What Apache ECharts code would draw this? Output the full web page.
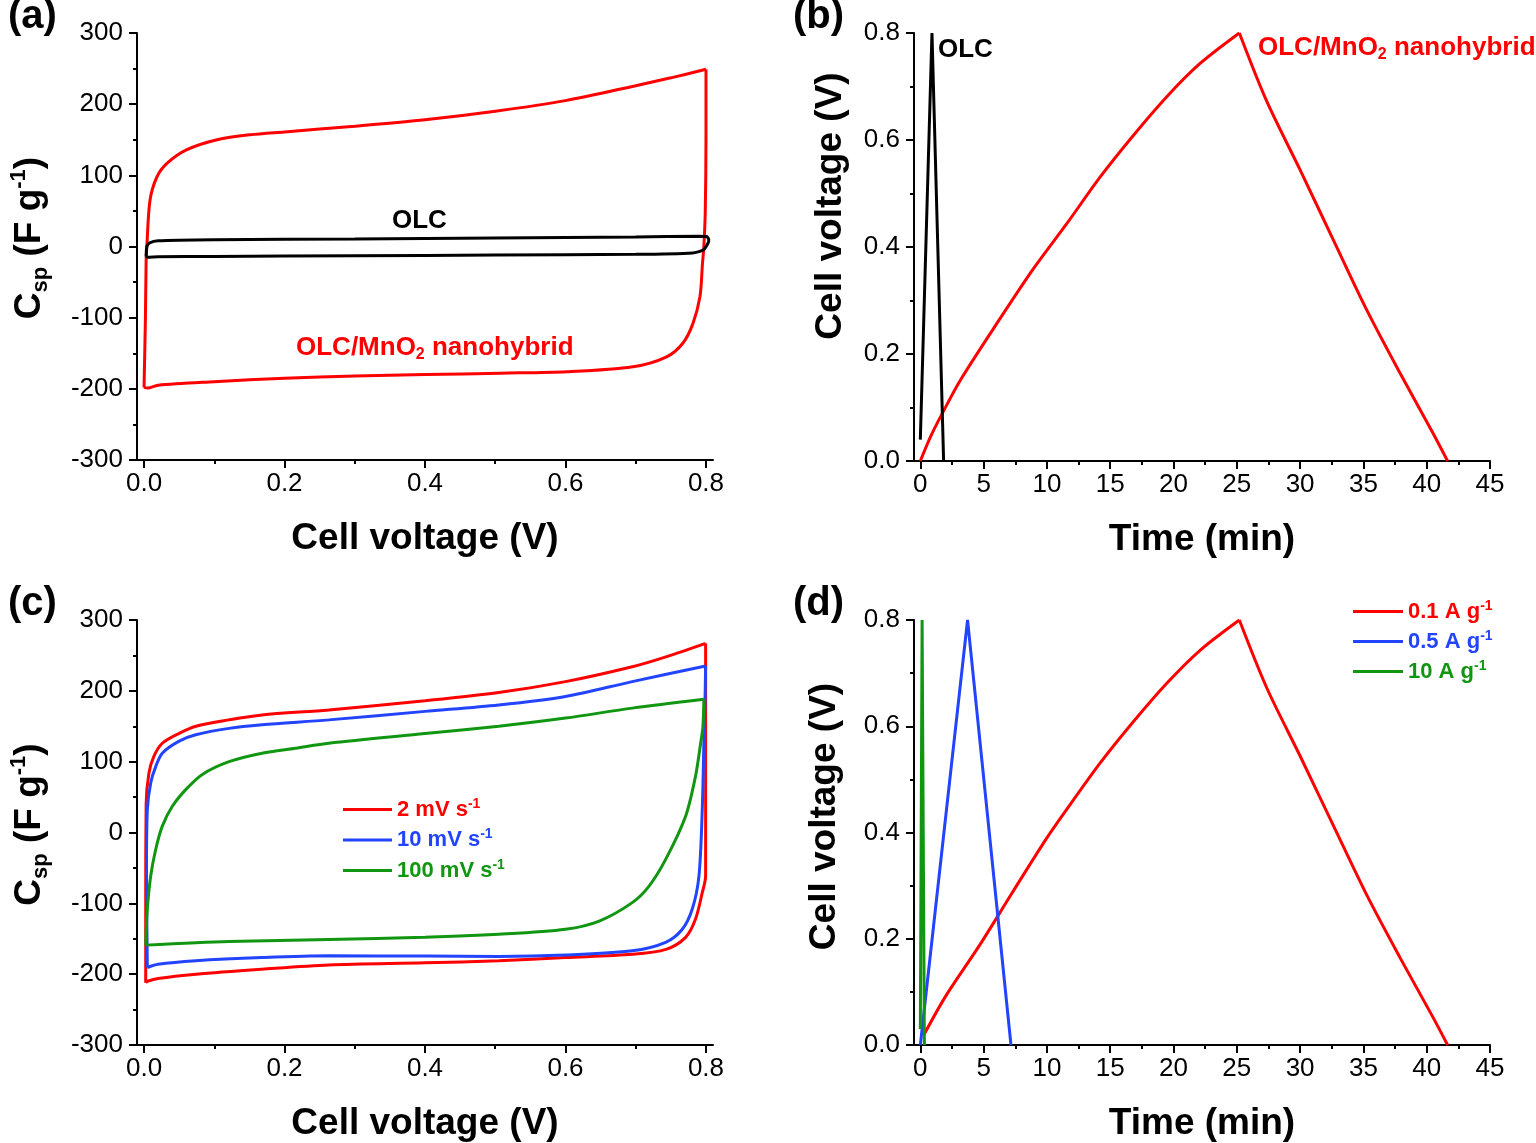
<!DOCTYPE html>
<html><head><meta charset="utf-8">
<script src="https://cdn.jsdelivr.net/npm/echarts@6/dist/echarts.min.js"></script>
<style>html,body{margin:0;padding:0;background:#fff}#c{width:1536px;height:1143px}</style>
</head><body><div id="c"></div>
<script>
// ---------- Panel (a): CV, OLC vs OLC/MnO2 (anodic "up" and cathodic "down" branches) ----------
const aHybUpV = [0.0, 0.002, 0.003, 0.004, 0.0085, 0.0185, 0.033, 0.061, 0.104, 0.151, 0.2, 0.3, 0.4, 0.5, 0.6, 0.7, 0.75, 0.8];
const aHybUpC = [-198, -100, -20, 0, 65, 98, 117, 136, 150, 157, 161, 169, 178, 190, 205, 226, 237, 249];
const aHybDnV = [0.8, 0.8, 0.799, 0.797, 0.795, 0.7915, 0.7815, 0.767, 0.744, 0.696, 0.602, 0.507, 0.4, 0.3, 0.2, 0.1, 0.02, 0.005, 0.0];
const aHybDnC = [249, 150, 50, 0, -24, -70, -108, -136, -155, -169, -176, -178, -180, -182, -185, -190, -195, -199, -198];
const aOlcV = [0.003, 0.004, 0.008, 0.02, 0.1, 0.3, 0.5, 0.7, 0.79, 0.801, 0.804, 0.803, 0.796, 0.781, 0.7, 0.5, 0.3, 0.1, 0.02, 0.005, 0.003];
const aOlcC = [-14, 0, 5, 8, 9.5, 10.5, 12, 13.5, 14.5, 14, 10, 5, -5, -9, -11, -12, -13, -14, -14.5, -15, -14];

// ---------- Panel (b): galvanostatic charge / discharge ----------
const bHybChT = [0, 0.8, 1.58, 3.16, 6.32, 8.95, 11.58, 14.21, 16.84, 19.47, 22.1, 25.2];
const bHybChU = [0, 0.045, 0.082, 0.151, 0.267, 0.36, 0.444, 0.531, 0.609, 0.681, 0.743, 0.8];
const bHybDisT = [25.2, 27.37, 30.0, 32.63, 35.27, 37.9, 40.5, 41.65];
const bHybDisU = [0.8, 0.672, 0.544, 0.413, 0.282, 0.164, 0.052, 0];
const bOlcT = [0, 0.92, 1.84];
const bOlcU = [0.04, 0.8, 0];

// ---------- Panel (c): CV at different scan rates ----------
const c2UpV = [0.0024, 0.0024, 0.003, 0.007, 0.014, 0.026, 0.05, 0.074, 0.121, 0.168, 0.263, 0.4, 0.505, 0.6, 0.695, 0.743, 0.7995];
const c2UpC = [-212, -100, 40, 84, 107.5, 126, 140, 150, 159, 166, 173, 186, 197.6, 213, 234, 248, 267];
const c2DnV = [0.7995, 0.7995, 0.7995, 0.7947, 0.785, 0.771, 0.743, 0.695, 0.6, 0.505, 0.4, 0.263, 0.168, 0.074, 0.02, 0.005, 0.0024];
const c2DnC = [267, 100, -61.5, -85, -122.5, -148, -165, -172, -176.5, -181, -184, -187, -193, -200, -206, -210, -212];
const c10UpV = [0.0047, 0.0035, 0.0047, 0.0095, 0.0166, 0.026, 0.05, 0.0736, 0.121, 0.168, 0.263, 0.4, 0.505, 0.6, 0.695, 0.7995];
const c10UpC = [-190.6, -60, 32, 70, 93, 112, 129, 138, 147, 152, 159, 171, 180, 192, 213, 235];
const c10DnV = [0.7995, 0.7985, 0.797, 0.7947, 0.79, 0.7805, 0.766, 0.7426, 0.695, 0.6, 0.505, 0.4, 0.263, 0.168, 0.0736, 0.02, 0.0047];
const c10DnC = [235, 180, 126, 32, -61.5, -108, -137, -155, -167, -173, -175, -174.5, -174, -176.5, -181, -186, -190.6];
const c100UpV = [0.0024, 0.0047, 0.0095, 0.0166, 0.026, 0.0403, 0.0594, 0.083, 0.121, 0.168, 0.216, 0.263, 0.4, 0.505, 0.6, 0.695, 0.797];
const c100UpC = [-159, -108, -61.5, -24, 9, 37, 60.5, 82, 100, 112, 119, 126, 139.6, 150, 161.5, 175.6, 188];
const c100DnV = [0.797, 0.7957, 0.7924, 0.785, 0.771, 0.7426, 0.719, 0.695, 0.648, 0.6, 0.505, 0.4, 0.263, 0.121, 0.0024];
const c100DnC = [188, 150, 126, 79, 23, -38, -75.6, -99, -125, -136.6, -143.7, -148, -151, -154, -159];

// ---------- Panel (d): charge / discharge at different current densities ----------
const d01ChT = [0.3, 2.03, 4.66, 7.27, 9.92, 11.58, 14.21, 16.84, 19.47, 22.1, 25.2];
const d01ChU = [0.02, 0.093, 0.187, 0.287, 0.387, 0.444, 0.531, 0.609, 0.681, 0.743, 0.8];
const d01DisT = [25.2, 27.37, 30.0, 32.63, 35.27, 37.9, 40.5, 41.65];
const d01DisU = [0.8, 0.672, 0.544, 0.413, 0.282, 0.164, 0.052, 0];
const d05T = [0, 3.73, 7.16];
const d05U = [0, 0.8, 0];
const d10T = [0, 0.14, 0.32];
const d10U = [0.03, 0.8, 0];

// ---------- tick values ----------
const voltTicks = [0, 0.2, 0.4, 0.6, 0.8];
const voltMinor = [0.1, 0.3, 0.5, 0.7];
const timeTicks = [0, 5, 10, 15, 20, 25, 30, 35, 40, 45];
const timeMinor = [2.5, 7.5, 12.5, 17.5, 22.5, 27.5, 32.5, 37.5, 42.5];

const RED = '#ff0000', BLUE = '#2244ff', GREEN = '#119611', BLACK = '#000000';
const FF = "'Liberation Sans', Arial, sans-serif";

const zip = (xs, ys) => xs.map((x, i) => [x, ys[i]]);

const grids = [
  {left: 137, top: 33, width: 576, height: 427},
  {left: 914, top: 33, width: 576, height: 428},
  {left: 137, top: 620, width: 576, height: 426},
  {left: 914, top: 620, width: 576, height: 426}
];

const titleStyle = {fontFamily: FF, fontSize: 37, fontWeight: 'bold', color: '#000'};
const lineBlack = {color: '#000', width: 2};

function xMain(g, min, max, ticks, fmt, name) {
  return {
    gridIndex: g, type: 'value', position: 'bottom', min: min, max: max,
    axisLine: {show: true, onZero: false, lineStyle: lineBlack},
    axisTick: {show: true, customValues: ticks, length: 8, lineStyle: lineBlack},
    axisLabel: {show: true, customValues: ticks, formatter: fmt, fontFamily: FF, fontSize: 26, color: '#000', margin: 11},
    splitLine: {show: false},
    name: name, nameLocation: 'middle', nameGap: 60, nameTextStyle: titleStyle
  };
}
function xMinor(g, min, max, ticks) {
  return {
    gridIndex: g, type: 'value', position: 'bottom', min: min, max: max,
    axisLine: {show: false, onZero: false},
    axisTick: {show: true, customValues: ticks, length: 4, lineStyle: lineBlack},
    axisLabel: {show: false}, splitLine: {show: false}
  };
}
const cspName = '{b|C}{sub|sp}{b| (F g}{sup|-1}{b|)}';
const cspRich = {
  b: {fontFamily: FF, fontSize: 37, fontWeight: 'bold', color: '#000', lineHeight: 44},
  sub: {fontFamily: FF, fontSize: 22, fontWeight: 'bold', color: '#000', lineHeight: 22, verticalAlign: 'bottom'},
  sup: {fontFamily: FF, fontSize: 22, fontWeight: 'bold', color: '#000', lineHeight: 22, verticalAlign: 'top'}
};
function yCsp(g, pad) {
  return {
    gridIndex: g, type: 'value', position: 'left', min: -300, max: 300, interval: 100,
    axisLine: {show: true, onZero: false, lineStyle: lineBlack},
    axisTick: {show: true, length: 8, lineStyle: lineBlack},
    minorTick: {show: true, splitNumber: 2, length: 4, lineStyle: lineBlack},
    axisLabel: {fontFamily: FF, fontSize: 26, color: '#000', margin: 14},
    splitLine: {show: false}, minorSplitLine: {show: false},
    name: cspName, nameLocation: 'middle', nameRotate: 90, nameGap: 85,
    nameTextStyle: Object.assign({}, titleStyle, {rich: cspRich, padding: [0, 0, 0, pad]})
  };
}
function yVolt(g, gap, pad) {
  return {
    gridIndex: g, type: 'value', position: 'left', min: 0, max: 0.8, interval: 0.2,
    axisLine: {show: true, onZero: false, lineStyle: lineBlack},
    axisTick: {show: true, length: 8, lineStyle: lineBlack},
    minorTick: {show: true, splitNumber: 2, length: 4, lineStyle: lineBlack},
    axisLabel: {fontFamily: FF, fontSize: 26, color: '#000', margin: 14, formatter: v => v.toFixed(1)},
    splitLine: {show: false}, minorSplitLine: {show: false},
    name: 'Cell voltage (V)', nameLocation: 'middle', nameRotate: 90, nameGap: gap,
    nameTextStyle: Object.assign({}, titleStyle, {padding: [0, 0, 0, pad]})
  };
}
const f1 = v => v.toFixed(1);
const f0 = v => String(v);

function line(name, xi, yi, data, color, smooth) {
  return {
    name: name, type: 'line', xAxisIndex: xi, yAxisIndex: yi, data: data,
    showSymbol: false, symbol: 'none', smooth: smooth || false, clip: false,
    lineStyle: {color: color, width: 3}, itemStyle: {color: color}
  };
}

const legendRich = {};
[['r', RED], ['b', BLUE], ['g', GREEN]].forEach(([k, c]) => {
  legendRich[k] = {fontFamily: FF, fontSize: 22, fontWeight: 'bold', color: c, lineHeight: 25};
  legendRich[k + 's'] = {fontFamily: FF, fontSize: 14, fontWeight: 'bold', color: c, lineHeight: 14, verticalAlign: 'top'};
});
const legendKey = {
  '2 mV s-1': 'r', '10 mV s-1': 'b', '100 mV s-1': 'g',
  '0.1 A g-1': 'r', '0.5 A g-1': 'b', '10 A g-1': 'g'
};
function legendFmt(name) {
  const k = legendKey[name];
  const base = name.slice(0, -2);
  return '{' + k + '|' + base + '}{' + k + 's|-1}';
}

function txt(left, top, text, rich) {
  return {type: 'text', left: left, top: top, style: {text: text, rich: rich}};
}
const annRich = (c) => ({
  a: {fontFamily: FF, fontSize: 26, fontWeight: 'bold', fill: c, lineHeight: 30},
  s: {fontFamily: FF, fontSize: 16, fontWeight: 'bold', fill: c, lineHeight: 16, verticalAlign: 'bottom'}
});
const panelRich = {p: {fontFamily: FF, fontSize: 40, fontWeight: 'bold', fill: '#000', lineHeight: 44}};

const S = 0.3;
const option = {
  animation: false,
  backgroundColor: '#ffffff',
  grid: grids,
  xAxis: [
    xMain(0, -0.01, 0.81, voltTicks, f1, 'Cell voltage (V)'), xMinor(0, -0.01, 0.81, voltMinor),
    xMain(1, -0.5, 45, timeTicks, f0, 'Time (min)'), xMinor(1, -0.5, 45, timeMinor),
    xMain(2, -0.01, 0.81, voltTicks, f1, 'Cell voltage (V)'), xMinor(2, -0.01, 0.81, voltMinor),
    xMain(3, -0.5, 45, timeTicks, f0, 'Time (min)'), xMinor(3, -0.5, 45, timeMinor)
  ],
  yAxis: [yCsp(0, 17), yVolt(1, 65, 82), yCsp(2, 16), yVolt(3, 71, 32)],
  legend: [
    {data: ['2 mV s-1', '10 mV s-1', '100 mV s-1'], orient: 'vertical', left: 343, top: 797, padding: 0,
     icon: 'rect', itemWidth: 49, itemHeight: 3, itemGap: 7, formatter: legendFmt,
     textStyle: {rich: legendRich}, selectedMode: false},
    {data: ['0.1 A g-1', '0.5 A g-1', '10 A g-1'], orient: 'vertical', left: 1353, top: 599, padding: 0,
     icon: 'rect', itemWidth: 50, itemHeight: 3, itemGap: 6.5, formatter: legendFmt,
     textStyle: {rich: legendRich}, selectedMode: false}
  ],
  series: [
    line('OLC/MnO2 nanohybrid (CV)', 0, 0, zip(aHybUpV, aHybUpC), RED, S),
    line('OLC/MnO2 nanohybrid (CV)', 0, 0, zip(aHybDnV, aHybDnC), RED, S),
    line('OLC (CV)', 0, 0, zip(aOlcV, aOlcC), BLACK, 0.2),
    line('OLC/MnO2 nanohybrid (GCD)', 2, 1, zip(bHybChT, bHybChU), RED, S),
    line('OLC/MnO2 nanohybrid (GCD)', 2, 1, zip(bHybDisT, bHybDisU), RED, S),
    line('OLC (GCD)', 2, 1, zip(bOlcT, bOlcU), BLACK),
    line('2 mV s-1', 4, 2, zip(c2UpV, c2UpC), RED, S),
    line('2 mV s-1', 4, 2, zip(c2DnV, c2DnC), RED, S),
    line('10 mV s-1', 4, 2, zip(c10UpV, c10UpC), BLUE, S),
    line('10 mV s-1', 4, 2, zip(c10DnV, c10DnC), BLUE, S),
    line('100 mV s-1', 4, 2, zip(c100UpV, c100UpC), GREEN, S),
    line('100 mV s-1', 4, 2, zip(c100DnV, c100DnC), GREEN, S),
    line('0.1 A g-1', 6, 3, zip(d01ChT, d01ChU), RED, S),
    line('0.1 A g-1', 6, 3, zip(d01DisT, d01DisU), RED, S),
    line('0.5 A g-1', 6, 3, zip(d05T, d05U), BLUE),
    line('10 A g-1', 6, 3, zip(d10T, d10U), GREEN)
  ],
  graphic: [
    txt(8, -3, '{p|(a)}', panelRich),
    txt(793, -3, '{p|(b)}', panelRich),
    txt(8, 584, '{p|(c)}', panelRich),
    txt(793, 584, '{p|(d)}', panelRich),
    txt(392, 208, '{a|OLC}', annRich(BLACK)),
    txt(296, 335, '{a|OLC/MnO}{s|2}{a| nanohybrid}', annRich(RED)),
    txt(938, 37, '{a|OLC}', annRich(BLACK)),
    txt(1258, 35, '{a|OLC/MnO}{s|2}{a| nanohybrid}', annRich(RED))
  ]
};

const chart = echarts.init(document.getElementById('c'), null, {renderer: 'canvas'});
chart.setOption(option);
</script></body></html>
